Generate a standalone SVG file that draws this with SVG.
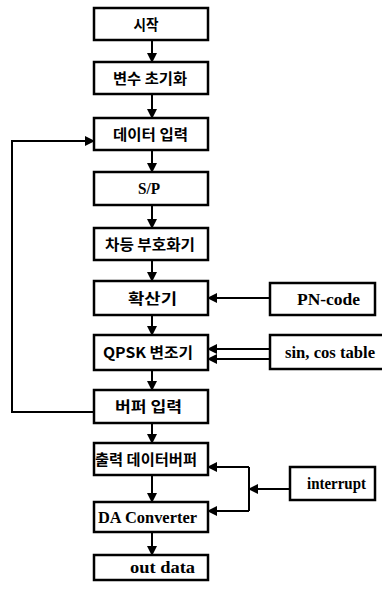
<svg xmlns="http://www.w3.org/2000/svg" width="382" height="590" viewBox="0 0 382 590">
<style>
.box{fill:#fff;stroke:#000;stroke-width:2.5}
.ln{fill:none;stroke:#000;stroke-width:2}
.ko{font-family:"Noto Sans CJK KR","Noto Sans",sans-serif;font-weight:bold;font-size:15px;text-anchor:middle;fill:#000}
.en{font-family:"Liberation Serif",serif;font-weight:bold;font-size:16px;text-anchor:middle;fill:#000}
</style>
<defs>
<marker id="ah" markerWidth="10" markerHeight="10" refX="9" refY="5" orient="auto" markerUnits="userSpaceOnUse">
<path d="M0,0 L10,5 L0,10 Z" fill="#000"/>
</marker>
</defs>
<g id="connectors">
<line class="ln" x1="152" y1="40" x2="152" y2="62" marker-end="url(#ah)"/>
<line class="ln" x1="152" y1="94" x2="152" y2="118" marker-end="url(#ah)"/>
<line class="ln" x1="152" y1="150" x2="152" y2="172" marker-end="url(#ah)"/>
<line class="ln" x1="152" y1="205" x2="152" y2="228" marker-end="url(#ah)"/>
<line class="ln" x1="152" y1="260" x2="152" y2="281" marker-end="url(#ah)"/>
<line class="ln" x1="152" y1="315" x2="152" y2="335" marker-end="url(#ah)"/>
<line class="ln" x1="152" y1="370" x2="152" y2="390" marker-end="url(#ah)"/>
<line class="ln" x1="152" y1="423" x2="152" y2="443" marker-end="url(#ah)"/>
<line class="ln" x1="152" y1="475" x2="152" y2="502" marker-end="url(#ah)"/>
<line class="ln" x1="152" y1="532" x2="152" y2="555" marker-end="url(#ah)"/>
<polyline class="ln" points="94,412 12,412 12,141 94,141" marker-end="url(#ah)"/>
<line class="ln" x1="270" y1="298" x2="208" y2="298" marker-end="url(#ah)"/>
<line class="ln" x1="270" y1="349" x2="208" y2="349" marker-end="url(#ah)"/>
<line class="ln" x1="270" y1="359" x2="208" y2="359" marker-end="url(#ah)"/>
<line class="ln" x1="290" y1="489" x2="249" y2="489" marker-end="url(#ah)"/>
<polyline class="ln" points="249,467 249,511"/>
<line class="ln" x1="249" y1="467" x2="208" y2="467" marker-end="url(#ah)"/>
<line class="ln" x1="249" y1="511" x2="208" y2="511" marker-end="url(#ah)"/>
</g>
<g id="n-start"><rect class="box" x="94" y="8" width="114" height="32"/><text class="ko" x="146" y="30" textLength="25" lengthAdjust="spacingAndGlyphs">시작</text></g>
<g id="n-init"><rect class="box" x="94" y="62" width="114" height="32"/><text class="ko" x="150" y="84" textLength="74" lengthAdjust="spacingAndGlyphs">변수 초기화</text></g>
<g id="n-input"><rect class="box" x="94" y="118" width="114" height="32"/><text class="ko" x="150.5" y="140" textLength="75" lengthAdjust="spacingAndGlyphs">데이터 입력</text></g>
<g id="n-sp"><rect class="box" x="94" y="172" width="114" height="33"/><text class="en" x="149" y="194" textLength="22" lengthAdjust="spacingAndGlyphs">S/P</text></g>
<g id="n-diff"><rect class="box" x="94" y="228" width="114" height="32"/><text class="ko" x="150" y="250" textLength="90" lengthAdjust="spacingAndGlyphs">차등 부호화기</text></g>
<g id="n-spread"><rect class="box" x="94" y="281" width="114" height="34"/><text class="ko" x="152.5" y="304" textLength="49" lengthAdjust="spacingAndGlyphs">확산기</text></g>
<g id="n-pn"><rect class="box" x="270" y="283" width="105" height="32"/><text class="en" x="328.5" y="305" textLength="63" lengthAdjust="spacingAndGlyphs">PN-code</text></g>
<g id="n-qpsk"><rect class="box" x="94" y="335" width="114" height="35"/><text class="ko" x="148" y="358" textLength="90" lengthAdjust="spacingAndGlyphs">QPSK 변조기</text></g>
<g id="n-sincos"><rect class="box" x="270" y="335" width="114" height="34"/><text class="en" x="330" y="358" textLength="90" lengthAdjust="spacingAndGlyphs">sin, cos table</text></g>
<g id="n-buf"><rect class="box" x="94" y="390" width="114" height="33"/><text class="ko" x="148.5" y="412" textLength="67" lengthAdjust="spacingAndGlyphs">버퍼 입력</text></g>
<g id="n-outbuf"><rect class="box" x="94" y="443" width="114" height="32"/><text class="ko" x="146" y="465" textLength="102" lengthAdjust="spacingAndGlyphs">출력 데이터버퍼</text></g>
<g id="n-interrupt"><rect class="box" x="290" y="467" width="85" height="33"/><text class="en" x="336.5" y="489" textLength="59" lengthAdjust="spacingAndGlyphs">interrupt</text></g>
<g id="n-da"><rect class="box" x="94" y="502" width="114" height="30"/><text class="en" x="147.5" y="523" textLength="99" lengthAdjust="spacingAndGlyphs">DA Converter</text></g>
<g id="n-out"><rect class="box" x="94" y="555" width="114" height="25"/><text class="en" x="162.5" y="573" textLength="65" lengthAdjust="spacingAndGlyphs">out data</text></g>
</svg>
